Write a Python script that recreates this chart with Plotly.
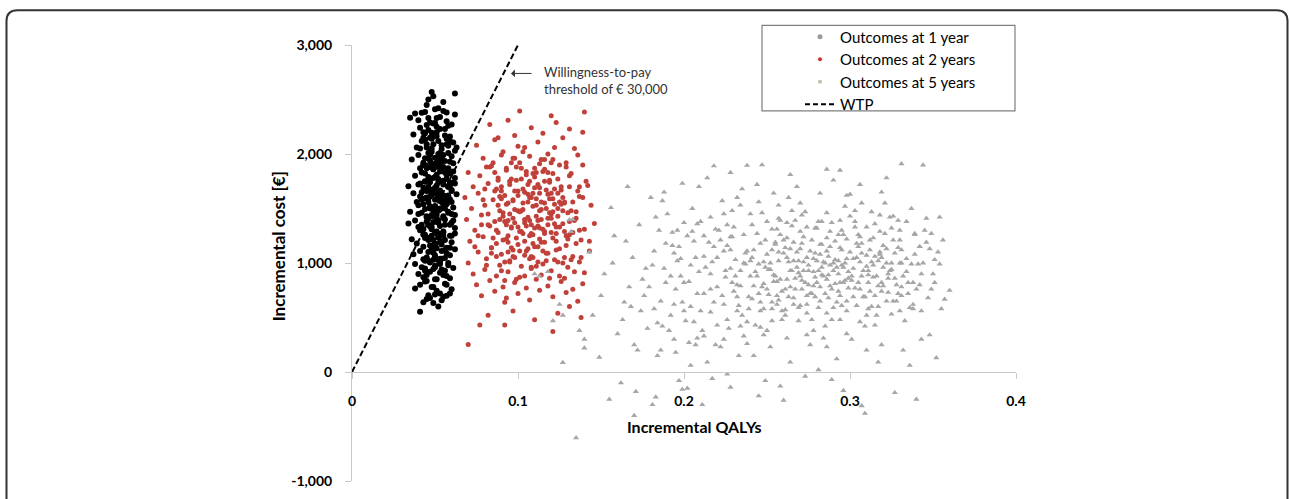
import plotly.graph_objects as go

# ---------------- data ----------------
# Outcomes at 1 year (black dots)
yr1_qaly = [
    0.048,0.062,0.049,0.035,0.038,0.042,0.055,0.062,0.045,0.052,
    0.040,0.044,0.047,0.050,0.053,0.057,0.060,0.046,0.051,0.055,
    0.037,0.041,0.043,0.048,0.052,0.056,0.059,0.061,0.045,0.050,
    0.039,0.042,0.046,0.049,0.054,0.058,0.062,0.044,0.051,0.057,
    0.036,0.040,0.043,0.047,0.050,0.053,0.056,0.060,0.063,0.048,
    0.041,0.045,0.049,0.052,0.055,0.058,0.061,0.044,0.047,0.054,
    0.038,0.042,0.046,0.050,0.053,0.057,0.059,0.062,0.048,0.044,
    0.034,0.040,0.043,0.047,0.051,0.055,0.058,0.061,0.049,0.053,
    0.037,0.041,0.045,0.048,0.052,0.056,0.060,0.063,0.044,0.050,
    0.039,0.043,0.046,0.050,0.054,0.057,0.061,0.047,0.052,0.059,
    0.035,0.040,0.044,0.048,0.051,0.055,0.058,0.062,0.046,0.053,
    0.034,0.038,0.042,0.045,0.049,0.053,0.056,0.060,0.047,0.051,
    0.036,0.041,0.044,0.048,0.052,0.055,0.059,0.062,0.046,0.050,
    0.039,0.043,0.046,0.050,0.054,0.057,0.060,0.048,0.052,0.062,
    0.037,0.041,0.045,0.049,0.053,0.056,0.059,0.043,0.051,0.047,
    0.038,0.042,0.046,0.050,0.054,0.058,0.061,0.044,0.052,0.056,
    0.040,0.043,0.047,0.051,0.055,0.059,0.045,0.049,0.053,0.057,
    0.038,0.041,0.046,0.049,0.053,0.056,0.060,0.044,0.051,0.055,
    0.041,0.049,0.054,0.047,0.057,0.043,0.052,0.059,0.045,0.050,
    0.043,0.045,0.047,0.049,0.051,0.053,0.055,0.057,0.059,0.061,
    0.042,0.044,0.046,0.048,0.050,0.052,0.054,0.056,0.058,0.060,
    0.044,0.046,0.048,0.050,0.052,0.054,0.056,0.058,0.049,0.051,
    0.041,0.043,0.045,0.047,0.049,0.051,0.053,0.055,0.057,0.059,
    0.045,0.047,0.050,0.052,0.054,0.056,0.058,0.060,0.046,0.053,
    0.042,0.044,0.048,0.050,0.052,0.055,0.057,0.059,0.061,0.047,
    0.046,0.048,0.049,0.051,0.053,0.055,0.057,0.043,0.050,0.054,
    0.040,0.045,0.047,0.050,0.052,0.054,0.056,0.058,0.044,0.049,
    0.041,0.043,0.046,0.048,0.051,0.053,0.055,0.058,0.060,0.062,
    0.044,0.047,0.049,0.052,0.054,0.056,0.059,0.045,0.050,0.057,
    0.043,0.046,0.049,0.052,0.055,0.058,0.045,0.048,0.051,0.054,
    0.047,0.050,0.053,0.056,0.059,0.044,0.046,0.049,0.052,0.055,
    0.042,0.048,0.054,0.060,0.045,0.051,0.057,0.047,0.053,0.059,
    0.040,0.046,0.052,0.058,0.044,0.050,0.056,0.048,0.054,0.062,
]
yr1_cost = [
    2568,2556,2529,2333,2372,2378,2477,2363,2450,2420,
    2310,2385,2290,2410,2340,2300,2270,2220,2250,2395,
    2180,2240,2150,2195,2120,2230,2160,2105,2265,2285,
    2060,2120,2010,2090,2045,2075,2030,2190,2165,2140,
    1950,1990,1920,2040,1965,2010,1935,1980,2060,1905,
    1870,1895,1860,1925,1880,1850,1915,1960,1990,1970,
    1800,1830,1760,1790,1840,1770,1820,1780,1880,1745,
    1703,1720,1690,1740,1710,1755,1700,1735,1675,1665,
    1640,1610,1660,1625,1650,1615,1670,1630,1595,1580,
    1560,1540,1590,1520,1570,1545,1510,1500,1605,1585,
    1470,1450,1495,1430,1480,1415,1460,1440,1405,1490,
    1363,1390,1350,1420,1375,1340,1400,1370,1335,1410,
    1219,1300,1260,1310,1240,1290,1250,1320,1230,1275,
    1180,1150,1210,1165,1200,1140,1190,1130,1235,1126,
    1080,1110,1050,1095,1040,1120,1070,1035,1135,1005,
    990,960,1020,975,940,1000,955,930,1025,1045,
    900,870,920,850,890,860,835,945,910,880,
    766,800,703,780,720,810,760,830,745,690,
    552,633,658,680,700,640,600,720,670,710,
    2200,1870,1520,1150,1960,1610,1280,2090,1740,1390,
    1460,2130,1790,1330,1050,1880,1560,1210,2260,1660,
    1020,2330,1440,1690,2000,1110,1830,1470,2160,1290,
    1730,1260,2060,1660,1860,1440,2230,930,1540,1930,
    1380,1940,1180,1770,2080,1350,1620,1250,2500,990,
    1580,1820,2020,1520,1390,1990,1090,1710,1840,1230,
    1100,1650,2280,1810,1500,1720,2380,1900,1070,1170,
    1530,1430,1610,1910,1270,1860,1580,980,1680,1480,
    2050,1310,1560,2140,1630,1920,1430,2010,1560,1270,
    1750,2150,1210,1370,1640,2170,1350,890,850,800,
    1900,1350,1780,1480,1250,1700,1600,2050,2330,1930,
    1160,1380,1010,1500,2120,1230,1960,1030,1740,1540,
    1650,1250,1930,1450,2090,2200,1810,1880,1190,1140,
    1330,1700,1590,1870,950,960,930,780,1040,1730,
]

# Outcomes at 2 years (red dots)
yr2_qaly = [
    0.101,0.140,0.083,0.094,0.108,0.115,0.123,0.131,0.088,0.120,
    0.075,0.086,0.091,0.098,0.104,0.112,0.118,0.127,0.134,0.139,
    0.079,0.084,0.090,0.096,0.102,0.107,0.113,0.121,0.129,0.136,
    0.070,0.077,0.088,0.093,0.099,0.105,0.110,0.116,0.124,0.132,
    0.073,0.082,0.087,0.095,0.100,0.107,0.113,0.119,0.126,0.142,
    0.068,0.076,0.085,0.092,0.097,0.104,0.111,0.118,0.128,0.137,
    0.072,0.080,0.089,0.094,0.101,0.109,0.114,0.122,0.130,0.146,
    0.069,0.078,0.086,0.091,0.098,0.106,0.112,0.120,0.127,0.135,
    0.074,0.083,0.088,0.096,0.103,0.108,0.116,0.123,0.131,0.140,
    0.071,0.079,0.087,0.093,0.100,0.107,0.114,0.121,0.129,0.138,
    0.076,0.084,0.090,0.097,0.104,0.110,0.117,0.125,0.133,0.143,
    0.070,0.081,0.089,0.095,0.102,0.109,0.115,0.122,0.130,0.137,
    0.073,0.080,0.087,0.094,0.101,0.108,0.114,0.120,0.128,0.140,
    0.075,0.083,0.091,0.098,0.105,0.111,0.118,0.126,0.133,0.139,
    0.078,0.086,0.093,0.100,0.107,0.113,0.121,0.129,0.136,0.092,
    0.070,0.077,0.092,0.121,0.082,0.097,0.110,0.124,0.131,0.138,
    0.095,0.099,0.103,0.107,0.111,0.115,0.119,0.123,0.127,0.131,
    0.093,0.097,0.101,0.105,0.109,0.113,0.117,0.121,0.125,0.129,
    0.090,0.094,0.098,0.102,0.106,0.110,0.114,0.118,0.122,0.126,
    0.085,0.089,0.093,0.097,0.101,0.105,0.109,0.113,0.117,0.121,
    0.087,0.091,0.096,0.100,0.104,0.108,0.112,0.116,0.120,0.124,
    0.088,0.092,0.096,0.100,0.104,0.108,0.112,0.116,0.120,0.124,
    0.082,0.086,0.090,0.094,0.098,0.102,0.106,0.110,0.114,0.118,
    0.123,0.127,0.131,0.135,0.119,0.115,0.111,0.107,0.103,0.099,
    0.079,0.084,0.128,0.133,0.137,0.141,0.081,0.074,0.144,0.134,
    0.103,0.106,0.109,0.113,0.116,0.119,0.122,0.125,0.098,0.095,
    0.082,0.088,0.094,0.100,0.106,0.112,0.118,0.124,0.130,0.136,
    0.084,0.090,0.096,0.102,0.108,0.114,0.120,0.126,0.132,0.138,
    0.086,0.092,0.098,0.104,0.110,0.116,0.122,0.128,0.134,0.078,
    0.081,0.087,0.093,0.099,0.105,0.111,0.117,0.123,0.129,0.135,
    0.085,0.091,0.097,0.103,0.109,0.115,0.121,0.127,0.133,0.139,
    0.089,0.095,0.101,0.107,0.113,0.119,0.125,0.131,0.137,0.143,
    0.076,0.083,0.090,0.097,0.104,0.111,0.118,0.125,0.132,0.139,
    0.080,0.092,0.100,0.108,0.116,0.124,0.094,0.112,0.120,0.128,
]
yr2_cost = [
    2394,2385,2270,2310,2240,2190,2290,2230,2150,2350,
    2080,2130,2020,2170,2060,2110,2000,2150,2050,2200,
    1960,1890,1990,1920,1870,1980,1910,1950,1880,1990,
    1830,1800,1780,1850,1760,1840,1790,1860,1770,1820,
    1700,1730,1680,1720,1660,1750,1690,1740,1670,1710,
    1600,1640,1580,1620,1570,1650,1590,1630,1560,1610,
    1500,1530,1480,1550,1470,1520,1490,1540,1460,1363,
    1400,1440,1380,1430,1370,1420,1390,1450,1360,1410,
    1300,1340,1280,1320,1270,1350,1290,1330,1260,1310,
    1200,1240,1180,1220,1170,1250,1190,1230,1160,1210,
    1100,1140,1080,1120,1070,1150,1090,1130,1060,1110,
    1000,1040,980,1020,970,1050,990,1030,960,1010,
    900,940,880,920,870,950,890,930,860,910,
    800,840,780,820,770,850,790,830,760,810,
    700,740,680,720,660,750,690,730,650,640,
    252,432,432,372,520,560,480,540,600,500,
    1450,1230,1680,1040,1530,1310,1760,1120,1600,1380,
    1350,1580,1110,1810,1260,1640,1020,1470,1900,1250,
    1700,1190,1490,1290,1560,1870,1400,1090,1360,1540,
    1230,1610,1870,1410,1920,1340,1640,1220,1500,1820,
    1060,1460,1140,1620,1400,960,1720,1550,1280,1010,
    1530,840,1770,1330,1200,1600,1150,1950,1640,1430,
    1350,1660,930,1390,1050,1480,1130,1320,1560,1410,
    1200,1480,1700,1180,860,1840,970,1390,2020,1880,
    1580,1090,1050,1560,1300,1750,1880,1150,1530,920,
    1490,1720,1180,1480,1270,1590,1680,1330,1660,1010,
    1450,1760,1250,2070,1630,1340,1830,1500,1220,1660,
    1140,1590,1330,1770,1060,1950,1410,1700,1480,1050,
    1830,1010,1960,1370,1690,1190,2060,1290,1390,1350,
    980,1300,1540,850,1110,1430,1670,1270,1920,1470,
    1920,1210,1060,1550,1820,1110,1590,1000,1280,1600,
    1400,1750,1290,1600,1320,1460,1560,1800,1700,1200,
    1250,1880,1660,1960,880,1830,1350,880,1030,1900,
    1680,1380,1480,1270,1750,1640,1100,1010,1920,1550,
]

# Outcomes at 5 years (grey triangles)
yr5_qaly = [
    0.127,0.149,0.156,0.135,0.140,0.145,0.152,0.158,0.133,0.143,
    0.150,0.155,0.160,0.165,0.170,0.175,0.180,0.162,0.168,0.173,
    0.157,0.163,0.167,0.172,0.177,0.181,0.185,0.178,0.171,0.166,
    0.182,0.186,0.190,0.194,0.198,0.202,0.206,0.210,0.188,0.196,
    0.184,0.189,0.193,0.197,0.201,0.205,0.209,0.192,0.199,0.207,
    0.187,0.191,0.195,0.200,0.204,0.208,0.212,0.183,0.197,0.203,
    0.212,0.216,0.220,0.224,0.228,0.232,0.236,0.240,0.214,0.222,
    0.213,0.218,0.223,0.227,0.231,0.235,0.239,0.217,0.226,0.233,
    0.215,0.219,0.221,0.225,0.229,0.234,0.238,0.211,0.230,0.237,
    0.216,0.220,0.224,0.228,0.232,0.236,0.240,0.218,0.226,0.234,
    0.242,0.246,0.250,0.254,0.258,0.262,0.266,0.270,0.244,0.252,
    0.243,0.247,0.251,0.255,0.259,0.263,0.267,0.248,0.256,0.264,
    0.241,0.245,0.249,0.253,0.257,0.261,0.265,0.269,0.260,0.268,
    0.244,0.248,0.252,0.256,0.260,0.264,0.268,0.246,0.254,0.262,
    0.242,0.250,0.258,0.266,0.245,0.253,0.261,0.269,0.249,0.257,
    0.272,0.276,0.280,0.284,0.288,0.292,0.296,0.300,0.274,0.282,
    0.273,0.277,0.281,0.285,0.289,0.293,0.297,0.278,0.286,0.294,
    0.271,0.275,0.279,0.283,0.287,0.291,0.295,0.299,0.290,0.298,
    0.274,0.278,0.282,0.286,0.290,0.294,0.298,0.276,0.284,0.292,
    0.270,0.279,0.288,0.297,0.273,0.281,0.289,0.296,0.285,0.293,
    0.301,0.305,0.309,0.313,0.317,0.321,0.325,0.329,0.303,0.311,
    0.302,0.306,0.310,0.314,0.318,0.322,0.326,0.330,0.307,0.315,
    0.304,0.308,0.312,0.316,0.320,0.324,0.328,0.300,0.319,0.327,
    0.303,0.307,0.311,0.315,0.319,0.323,0.331,0.309,0.317,0.325,
    0.331,0.335,0.339,0.343,0.347,0.351,0.355,0.344,0.360,0.357,
    0.333,0.337,0.341,0.345,0.349,0.353,0.332,0.340,0.348,0.336,
    0.334,0.338,0.342,0.346,0.350,0.354,0.339,0.343,0.352,0.356,
    0.238,0.331,0.306,0.322,0.294,0.264,0.247,0.228,0.209,0.286,
    0.255,0.259,0.263,0.267,0.271,0.275,0.279,0.283,0.287,0.291,
    0.295,0.299,0.303,0.307,0.311,0.315,0.319,0.323,0.327,0.331,
    0.225,0.229,0.233,0.237,0.241,0.245,0.249,0.253,0.257,0.261,
    0.266,0.270,0.274,0.278,0.282,0.286,0.290,0.294,0.298,0.302,
    0.196,0.200,0.204,0.208,0.212,0.216,0.220,0.224,0.228,0.232,
    0.164,0.169,0.174,0.179,0.184,0.189,0.194,0.199,0.203,0.208,
    0.306,0.314,0.322,0.330,0.338,0.346,0.310,0.318,0.326,0.334,
    0.131,0.132,0.110,0.118,0.125,0.127,0.121,0.113,0.140,0.137,
    0.181,0.187,0.193,0.199,0.205,0.211,0.217,0.223,0.229,0.235,
    0.241,0.247,0.253,0.259,0.265,0.271,0.277,0.283,0.289,0.295,
    0.301,0.307,0.313,0.319,0.325,0.331,0.337,0.343,0.349,0.239,
    0.186,0.192,0.198,0.204,0.210,0.216,0.222,0.228,0.234,0.240,
    0.246,0.252,0.258,0.264,0.270,0.276,0.282,0.288,0.294,0.300,
    0.306,0.312,0.318,0.324,0.330,0.336,0.342,0.348,0.354,0.245,
    0.183,0.195,0.207,0.219,0.231,0.243,0.255,0.267,0.279,0.291,
    0.303,0.315,0.327,0.339,0.351,0.262,0.274,0.286,0.298,0.310,
    0.251,0.257,0.263,0.269,0.275,0.281,0.287,0.293,0.299,0.305,
    0.311,0.317,0.323,0.329,0.335,0.271,0.283,0.295,0.307,0.319,
    0.226,0.232,0.238,0.244,0.250,0.256,0.262,0.268,0.274,0.280,
    0.286,0.292,0.298,0.304,0.310,0.316,0.322,0.328,0.334,0.340,
    0.170,0.176,0.182,0.188,0.194,0.200,0.206,0.212,0.218,0.224,
    0.230,0.236,0.242,0.248,0.254,0.260,0.266,0.272,0.278,0.284,
    0.290,0.296,0.302,0.308,0.314,0.320,0.326,0.332,0.338,0.344,
    0.253,0.261,0.269,0.277,0.285,0.293,0.301,0.309,0.317,0.325,
    0.257,0.265,0.273,0.281,0.289,0.297,0.305,0.313,0.321,0.329,
    0.202,0.214,0.226,0.238,0.250,0.262,0.274,0.286,0.298,0.310,
    0.234,0.246,0.258,0.270,0.282,0.294,0.306,0.318,0.330,0.342,
    0.248,0.256,0.264,0.272,0.280,0.288,0.296,0.304,0.312,0.320,
]
yr5_cost = [
    87,135,1507,-604,300,520,900,1250,1400,1100,
    700,-250,350,1200,-400,850,1600,-100,600,1350,
    1000,480,780,200,950,-300,1300,400,-180,1700,
    1110,650,1450,300,880,-150,1200,560,1650,1020,
    150,820,1280,-80,470,1500,920,520,1730,250,
    1570,380,760,1370,60,720,1060,-230,1150,830,
    330,1420,780,1110,-140,560,1260,880,1780,230,
    960,640,1570,400,1030,1680,690,-60,1350,150,
    1190,250,1300,870,1480,930,460,-300,740,1090,
    550,1050,620,1240,1600,330,1450,1890,-20,790,
    1120,560,1380,830,-130,1050,620,1290,1720,230,
    920,1460,710,1170,480,1600,860,340,1310,90,
    670,990,1210,580,1020,760,1480,470,-260,1700,
    1270,810,940,700,1210,930,1100,410,1640,1370,
    150,1080,850,680,-220,640,520,910,-80,1530,
    1010,720,1320,880,1150,640,960,1430,540,1640,
    820,1210,590,1000,760,1260,840,380,1460,480,
    1180,930,870,1380,680,1030,1120,770,1760,1620,
    620,1040,780,540,930,820,560,250,310,120,
    1550,1090,1290,1000,-40,20,-70,-170,720,900,
    880,1150,690,1010,790,1270,940,720,1480,580,
    1040,760,1330,870,1100,650,1210,1000,-310,430,
    610,930,1210,520,960,1420,800,1630,250,-190,
    1330,1550,820,1360,1650,730,1910,-380,90,530,
    1120,820,1260,900,680,1030,580,1898,748,667,
    470,1500,990,1300,760,1100,200,-250,340,60,
    1380,620,1150,1410,900,1420,1080,300,130,1210,
    1895,1000,1720,1780,1850,1810,1900,1830,1700,1860,
    880,740,1010,760,840,980,690,960,890,810,
    980,860,770,880,930,700,820,900,860,780,
    930,820,610,990,1050,720,960,1310,660,1140,
    1190,610,1330,920,1080,1230,590,700,1220,690,
    1300,560,980,310,720,900,430,1450,1120,800,
    640,1050,560,780,450,1180,620,-160,270,1360,
    460,1230,1130,560,820,1190,1070,1440,650,920,
    1396,1288,900,920,620,520,470,880,220,380,
    980,420,1160,640,1290,380,1010,700,1240,520,
    1350,780,1120,560,930,1440,720,1170,480,1300,
    840,1180,600,1050,1320,700,990,560,1270,580,
    200,880,1040,600,1380,760,1210,950,420,1020,
    640,1000,1260,780,880,1110,650,980,1390,1100,
    1010,740,1290,930,1210,590,800,1130,990,1560,
    1420,180,1050,1310,880,430,1190,1390,1320,1200,
    1380,1060,1090,1270,820,850,700,850,1040,970,
    940,1100,690,1020,800,930,1060,740,920,820,
    890,1020,860,1140,720,760,890,610,1090,740,
    1160,690,1110,880,760,620,1230,960,1050,820,
    1110,960,650,1180,520,880,1000,650,1040,760,
    250,700,580,950,1090,820,460,1250,1150,300,
    1330,1000,790,580,890,1090,1020,1240,790,1010,
    1000,1260,950,690,980,1160,1430,880,580,1000,
    470,570,590,480,420,1020,300,420,600,1000,
    1410,1340,1470,1380,1370,1520,1260,1470,1550,1390,
    1250,90,480,260,380,310,340,230,350,200,
    1530,1180,1390,1130,1170,1140,1240,1080,1300,1150,
    1010,830,1130,930,1020,790,820,1050,1120,790,
]

series_names = ["Outcomes at 1 year", "Outcomes at 2 years", "Outcomes at 5 years", "WTP"]
legend_marker_colors = ["#9a9a9a", "#d0302a", "#b8c2ae"]
wtp_threshold = 30000          # € per QALY
wtp_qaly = [0.0, 0.1]
wtp_cost = [q * wtp_threshold for q in wtp_qaly]

x_tick_vals = [0, 0.1, 0.2, 0.3, 0.4]
x_tick_text = ["0", "0.1", "0.2", "0.3", "0.4"]
y_tick_vals = [-1000, 0, 1000, 2000, 3000]
y_tick_text = ["-1,000", "0", "1,000", "2,000", "3,000"]

# ---------------- figure ----------------
FONT = "Lato, 'Open Sans', sans-serif"
AXIS_GREY = "#c8c8c8"
WTP_DASH = "6px,3px"

# pixel -> paper helpers (plot area: x 352..1016, y 45..489)
def px(xp):
    return (xp - 352) / 664
def py(yp):
    return (489 - yp) / 444

fig = go.Figure()
fig.add_trace(go.Scatter(x=yr1_qaly, y=yr1_cost, mode="markers", name=series_names[0],
                         showlegend=False, marker=dict(color="#000000", size=6, symbol="circle")))
fig.add_trace(go.Scatter(x=yr2_qaly, y=yr2_cost, mode="markers", name=series_names[1],
                         showlegend=False, marker=dict(color="#c0403a", size=5, symbol="circle")))
fig.add_trace(go.Scatter(x=yr5_qaly, y=yr5_cost, mode="markers", name=series_names[2],
                         showlegend=False, marker=dict(color="#a6a6a6", size=5.5, symbol="triangle-up")))
fig.add_trace(go.Scatter(x=wtp_qaly, y=wtp_cost, mode="lines", name=series_names[3],
                         showlegend=False, line=dict(color="#000000", width=2, dash=WTP_DASH)))

# legend entries (as shown in the reference key)
for name, col, sz in zip(series_names[:3], legend_marker_colors, [5, 4, 4]):
    fig.add_trace(go.Scatter(x=[None], y=[None], mode="markers", name=name,
                             marker=dict(color=col, size=sz)))
fig.add_trace(go.Scatter(x=[None], y=[None], mode="lines", name=series_names[3],
                         line=dict(color="#000000", width=2, dash="5px,3px")))

fig.update_layout(
    width=1290, height=499,
    margin=dict(l=352, r=274, t=45, b=10),
    paper_bgcolor="white", plot_bgcolor="white",
    font=dict(family=FONT, color="#000000"),
    showlegend=True,
    legend=dict(x=px(800), y=py(20), xanchor="left", yanchor="top",
                borderwidth=0, bgcolor="rgba(0,0,0,0)",
                font=dict(family=FONT, size=15, color="#000000"),
                tracegroupgap=0, itemsizing="trace"),
    xaxis=dict(range=[0, 0.4], anchor="free", position=0.25,
               showline=True, linecolor=AXIS_GREY, linewidth=1,
               showgrid=False, zeroline=False,
               ticks="outside", ticklen=6, tickcolor=AXIS_GREY,
               tickvals=x_tick_vals, ticktext=x_tick_text,
               ticklabelstandoff=10,
               tickfont=dict(family=FONT, size=14, color="#000000", weight="bold")),
    yaxis=dict(range=[-1000, 3000],
               showline=True, linecolor=AXIS_GREY, linewidth=1,
               showgrid=False, zeroline=False,
               ticks="outside", ticklen=6, tickcolor=AXIS_GREY,
               tickvals=y_tick_vals, ticktext=y_tick_text,
               ticklabelstandoff=10,
               tickfont=dict(family=FONT, size=14, color="#000000", weight="bold")),
)

# legend frame
fig.add_shape(type="rect", xref="paper", yref="paper",
              x0=px(762), x1=px(1015), y0=py(112), y1=py(25),
              line=dict(color="#7f7f7f", width=1.2), fillcolor="rgba(0,0,0,0)")

# axis titles
fig.add_annotation(text="<b>Incremental QALYs</b>", xref="paper", yref="paper",
                   x=px(694), y=py(434), showarrow=False,
                   font=dict(family=FONT, size=16, color="#000000"),
                   xanchor="center", yanchor="middle")
fig.add_annotation(text="<b>Incremental cost [€]</b>", xref="paper", yref="paper",
                   x=px(278), y=py(250), showarrow=False,
                   textangle=-90,
                   font=dict(family=FONT, size=17, color="#000000"),
                   xanchor="center", yanchor="middle")

# WTP label with arrow
fig.add_annotation(x=0.0958, y=2739, ax=22, ay=0, text="", showarrow=True,
                   arrowhead=1, arrowsize=1.3, arrowwidth=1, arrowcolor="#333333")
fig.add_annotation(x=0.1145, y=2671, text="Willingness-to-pay<br>threshold of € 30,000",
                   showarrow=False, xanchor="left", yanchor="middle", align="left",
                   font=dict(family=FONT, size=13, color="#333333"))

# rounded outer frame
L, R, T, B, r = 6.5, 1287.5, 9.5, 520, 11
path = (f"M {px(L)},{py(B)} L {px(L)},{py(T + r)} Q {px(L)},{py(T)} {px(L + r)},{py(T)} "
        f"L {px(R - r)},{py(T)} Q {px(R)},{py(T)} {px(R)},{py(T + r)} L {px(R)},{py(B)}")
fig.add_shape(type="path", path=path, xref="paper", yref="paper",
              line=dict(color="#333333", width=2), layer="above")

fig.write_html("out.html", config={"displayModeBar": False},
               post_script="document.body.style.margin='0px';")
